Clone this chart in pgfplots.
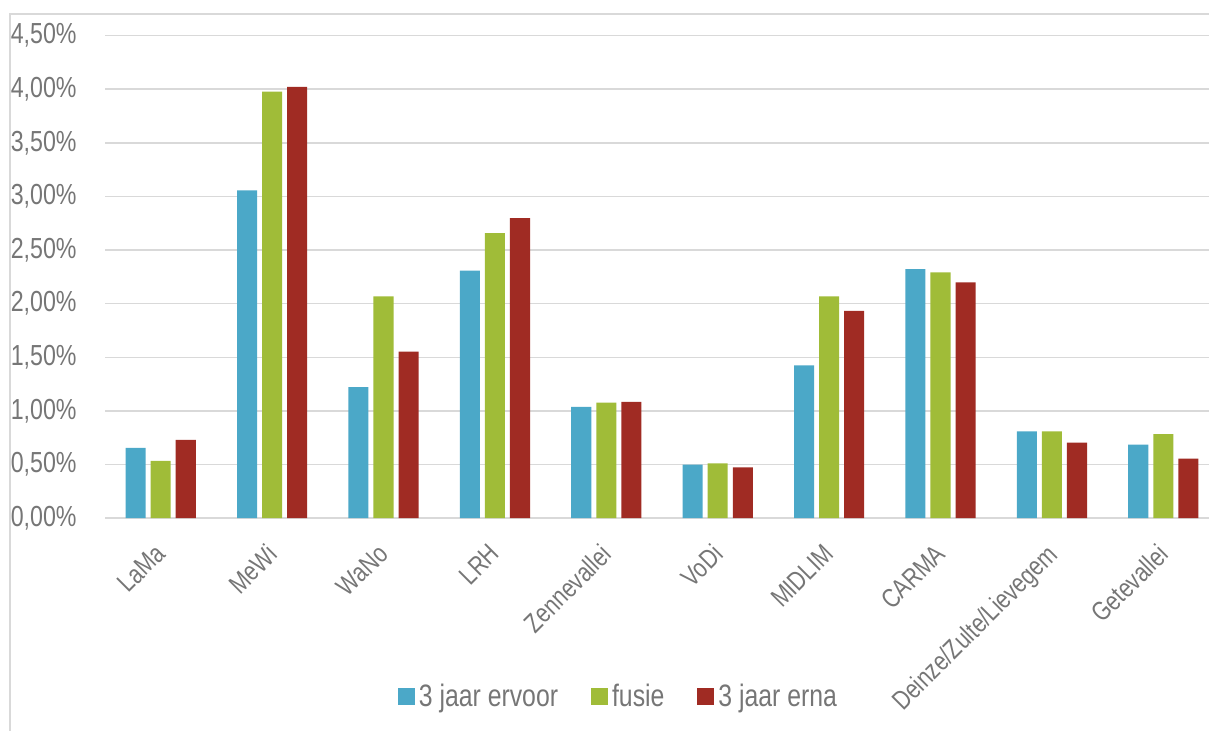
\documentclass[border=0pt]{standalone}
\usepackage{fontspec}
\setmainfont{Liberation Sans}[FakeStretch=0.8]
\usepackage{pgfplots}
\pgfplotsset{compat=1.18}

\definecolor{cBlue}{HTML}{4BA8C8}
\definecolor{cGreen}{HTML}{A0BC38}
\definecolor{cRed}{HTML}{A02B23}
\definecolor{cText}{HTML}{767676}
\definecolor{cGrid}{HTML}{D9D9D9}

\begin{document}
\begin{tikzpicture}
\useasboundingbox (0pt,0pt) rectangle (604.5pt,365.5pt);
% chart frame (left and top edge)
\draw[cGrid, line width=0.8pt] (5pt,0pt) -- (5pt,358.5pt) -- (604.5pt,358.5pt);
\begin{axis}[
  at={(52.5pt,106.4pt)}, anchor=south west,
  scale only axis,
  width=552pt, height=241.3pt,
  xmin=-0.5, xmax=9.41,
  ymin=0, ymax=4.5,
  axis line style={draw=none},
  ymajorgrids,
  grid style={cGrid, line width=0.75pt},
  ytick={0,0.5,...,4.5},
  xtick={0,...,9},
  xticklabels={LaMa,MeWi,WaNo,LRH,Zennevallei,VoDi,MIDLIM,CARMA,Deinze/Zulte/Lievegem,Getevallei},
  major tick length=0pt,
  tick style={draw=none},
  /pgf/number format/assume math mode=true,
  yticklabel={\pgfmathprintnumber[fixed,fixed zerofill,precision=2,use comma]{\tick}\%},
  ticklabel style={text=cText},
  yticklabel style={font=\fontsize{14.5}{16}\selectfont, anchor=east, inner sep=0pt, xshift=-14pt},
  xticklabel style={font=\fontsize{13.4}{15}\selectfont, xshift=-3.5pt, yshift=-12pt,
    rotate=45, anchor=north east, inner sep=0pt},
  legend style={at={(0.466,-0.37)}, anchor=center, draw=none, fill=none,
    font=\fontsize{15.5}{17}\selectfont, text=cText,
    legend columns=3, inner sep=0pt,
    /tikz/every even column/.append style={column sep=14.5pt}},
  legend cell align=left,
  legend image code/.code={\fill[#1] (0pt,-4.25pt) rectangle (8.5pt,4.25pt);},
]
\addplot[ybar, bar width=0.18, bar shift=-0.225, fill=cBlue, draw=none] coordinates {
  (0,0.656) (1,3.056) (2,1.223) (3,2.308) (4,1.037) (5,0.500) (6,1.425) (7,2.323) (8,0.810) (9,0.686)};
\addplot[ybar, bar width=0.18, bar shift=0, fill=cGreen, draw=none] coordinates {
  (0,0.534) (1,3.978) (2,2.068) (3,2.658) (4,1.078) (5,0.512) (6,2.068) (7,2.292) (8,0.810) (9,0.783)};
\addplot[ybar, bar width=0.18, bar shift=0.225, fill=cRed, draw=none] coordinates {
  (0,0.731) (1,4.022) (2,1.553) (3,2.798) (4,1.084) (5,0.475) (6,1.932) (7,2.199) (8,0.705) (9,0.556)};
\legend{3 jaar ervoor, fusie, 3 jaar erna}
\end{axis}
\end{tikzpicture}
\end{document}
